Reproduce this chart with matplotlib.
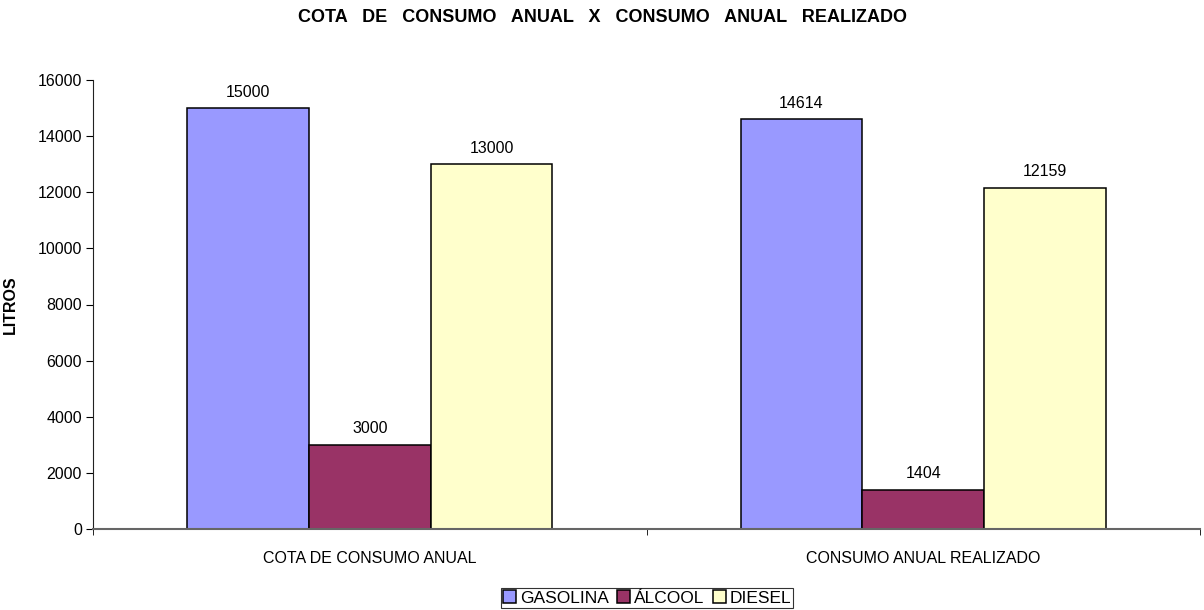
import matplotlib.pyplot as plt
import numpy as np

plt.rcParams['font.family'] = ['Liberation Sans', 'DejaVu Sans']

# data
categorias = ['COTA DE CONSUMO ANUAL', 'CONSUMO ANUAL REALIZADO']
series = ['GASOLINA', 'ÁLCOOL', 'DIESEL']
gasolina = [15000, 14614]
alcool = [3000, 1404]
diesel = [13000, 12159]
cores = ['#9999FF', '#993366', '#FFFFCC']

valores = [gasolina, alcool, diesel]

fig = plt.figure(figsize=(12.04, 6.10), dpi=100)
ax = fig.add_axes([93/1204, 1 - 529/610, (1200-93)/1204, (529-80)/610])

x = np.arange(len(categorias))
w = 0.22
for i, (nome, vals, cor) in enumerate(zip(series, valores, cores)):
    pos = x + (i - 1) * w
    bars = ax.bar(pos, vals, w, color=cor, edgecolor='black', linewidth=1.1, label=nome)
    for b, v in zip(bars, vals):
        ax.annotate(f'{v}', (b.get_x() + b.get_width()/2, v), xytext=(0, 6),
                    textcoords='offset points', ha='center', va='bottom', fontsize=11.5)

ax.set_xlim(-0.5, 1.5)
ax.set_ylim(0, 16000)
ax.set_yticks(range(0, 16001, 2000))
ax.set_xticks(x)
ax.set_xticklabels(categorias, fontsize=11.5)
ax.set_xticks([-0.5, 0.5, 1.5], minor=True)
ax.tick_params(axis='x', which='major', length=0, pad=16)
ax.tick_params(axis='x', which='minor', length=4, direction='out')
ax.tick_params(axis='y', length=5, direction='out', labelsize=11.5, pad=3)

for s in ['top', 'right']:
    ax.spines[s].set_visible(False)
ax.spines['left'].set_color('#222222')
ax.spines['bottom'].set_color('#666666')
ax.spines['bottom'].set_linewidth(1.5)

ax.set_ylabel('LITROS', fontsize=11.5, fontweight='bold')
ax.yaxis.set_label_coords((18 - 93) / 1107, 0.5)

fig.text(0.5, 1 - 17/610, 'COTA   DE   CONSUMO   ANUAL   X   CONSUMO   ANUAL   REALIZADO',
         ha='center', va='center', fontsize=13, fontweight='bold')

leg = fig.legend(loc='lower center', bbox_to_anchor=(647/1204, 0.0), ncol=3,
                 fontsize=12.5, frameon=True, fancybox=False, edgecolor='black',
                 handlelength=0.75, handleheight=0.75, handletextpad=0.2,
                 columnspacing=0.5, borderpad=0.15, borderaxespad=0.1)
leg.get_frame().set_linewidth(0.8)

fig.savefig('out.png', dpi=100)
